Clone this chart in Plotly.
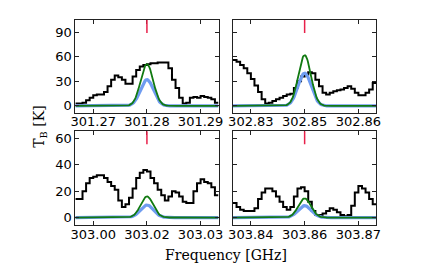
import math
import plotly.graph_objects as go

# ---- data ----
centers = [301.280, 302.845, 303.015, 303.855]      # line rest frequencies (GHz)
half_span = 0.01333                                  # half width of each panel (GHz)
n_chan = 40

obs_tl = [3, 3, 4, 7, 10, 13, 14, 14, 17, 24, 32, 37, 35, 32, 27, 27, 36, 44, 48, 50,
          51, 52, 52, 53, 53, 53, 46, 32, 22, 10, 3, 4, 10, 11, 10, 12, 11, 10, 8, 4]
obs_tr = [56, 54, 50, 46, 40, 33, 25, 17, 8, 3, 4, 6, 8, 10, 12, 14, 15, 22, 30, 36,
          38, 41, 40, 32, 24, 16, 14, 16, 18, 19, 20, 22, 24, 21, 16, 13, 13, 16, 20, 28]
obs_bl = [14, 14, 20, 26, 30, 31, 32, 32, 30, 27, 24, 21, 13, 8, 10, 15, 22, 30, 34, 36,
          35, 30, 26, 21, 17, 13, 16, 20, 19, 16, 12, 11, 11, 20, 26, 29, 27, 26, 23, 17]
obs_br = [11, 8, 6, 5, 5, 5, 7, 14, 19, 22, 22, 20, 16, 12, 8, 6, 8, 16, 22, 23,
          20, 12, 5, 2, 2, 3, 5, 7, 6, 4, 2, 1, 2, 9, 19, 24, 22, 19, 14, 10]
observed = [obs_tl, obs_tr, obs_bl, obs_br]

green_peak = [51, 62, 16, 14.5]
blue_peak = [32, 40, 9.5, 9]
green_sigma = 0.00117
blue_sigma = 0.00122

tick_vals = [[301.27, 301.28, 301.29],
             [302.835, 302.845, 302.855],
             [303.005, 303.015, 303.025],
             [303.845, 303.855, 303.865]]
tick_text = [["301.27", "301.28", "301.29"],
             ["302.83", "302.85", "302.86"],
             ["303.00", "303.02", "303.03"],
             ["303.84", "303.86", "303.87"]]
ytick_top = [0, 30, 60, 90]
ytick_bot = [0, 20, 40, 60]
yrange_top = [-8.5, 105]
yrange_bot = [-5.8, 65.5]

# ---- figure ----
W, H = 437, 273
xdom = [[72 / W, 218.5 / W], [233.3 / W, 380 / W]]
ydom = [[1 - 113.3 / H, 1 - 20 / H], [1 - 226 / H, 1 - 131.7 / H]]

fig = go.Figure()
for k in range(4):
    row, col = divmod(k, 2)
    ax = "" if k == 0 else str(k + 1)
    c = centers[k]
    lo, hi = c - half_span, c + half_span
    w = (hi - lo) / n_chan
    xe = [lo + i * w for i in range(n_chan + 1)]
    ye = observed[k] + [observed[k][-1]]
    fig.add_trace(go.Scatter(x=xe, y=ye, mode="lines", line=dict(color="black", width=2, shape="hv"),
                             xaxis="x" + ax, yaxis="y" + ax, showlegend=False, hoverinfo="skip"))
    npts = 200
    xs = [lo + (hi - lo) * i / (npts - 1) for i in range(npts)]
    yb = [blue_peak[k] * math.exp(-0.5 * ((x - c) / blue_sigma) ** 2) for x in xs]
    yg = [green_peak[k] * math.exp(-0.5 * ((x - c) / green_sigma) ** 2) for x in xs]
    fig.add_trace(go.Scatter(x=xs, y=yb, mode="lines", line=dict(color="#6f9cf0", width=3.2),
                             xaxis="x" + ax, yaxis="y" + ax, showlegend=False, hoverinfo="skip"))
    fig.add_trace(go.Scatter(x=xs, y=yg, mode="lines", line=dict(color="#117a11", width=1.8),
                             xaxis="x" + ax, yaxis="y" + ax, showlegend=False, hoverinfo="skip"))
    fig.add_shape(type="line", x0=c, x1=c, y0=0.86, y1=1.0, xref="x" + ax, yref="y" + ax + " domain",
                  line=dict(color="#e8204a", width=1.5))
    common = dict(showline=True, linecolor="#222", linewidth=1, mirror="allticks", ticks="inside",
                  ticklen=4, tickcolor="#222", showgrid=False, zeroline=False,
                  tickfont=dict(family="DejaVu Sans", size=13, color="black"))
    fig.layout["xaxis" + ax] = dict(domain=xdom[col], range=[lo, hi], tickvals=tick_vals[k],
                                    ticktext=tick_text[k], anchor="y" + ax,
                                    ticklabelstandoff=-3, **common)
    fig.layout["yaxis" + ax] = dict(domain=ydom[row], anchor="x" + ax,
                                    range=yrange_top if row == 0 else yrange_bot,
                                    tickvals=ytick_top if row == 0 else ytick_bot,
                                    showticklabels=(col == 0), **common)

fig.add_annotation(text="T<sub>B</sub> [K]", x=35 / W, y=1 - 127 / H, xref="paper", yref="paper",
                   xanchor="center", yanchor="middle",
                   textangle=-90, showarrow=False, font=dict(family="DejaVu Serif", size=14, color="black"))
fig.add_annotation(text="Frequency [GHz]", x=226 / W, y=1 - 256 / H, xref="paper", yref="paper",
                   xanchor="center", yanchor="middle",
                   showarrow=False, font=dict(family="DejaVu Serif", size=14, color="black"))

fig.update_layout(width=W, height=H, margin=dict(l=0, r=0, t=0, b=0),
                  plot_bgcolor="white", paper_bgcolor="white")
fig.write_html("out.html", config={"displayModeBar": False})

# remove the browser's default page margin so the figure sits at (0, 0)
with open("out.html", encoding="utf-8") as f:
    html = f.read()
html = html.replace("<head>", "<head><style>html,body{margin:0;padding:0;}</style>", 1)
with open("out.html", "w", encoding="utf-8") as f:
    f.write(html)
